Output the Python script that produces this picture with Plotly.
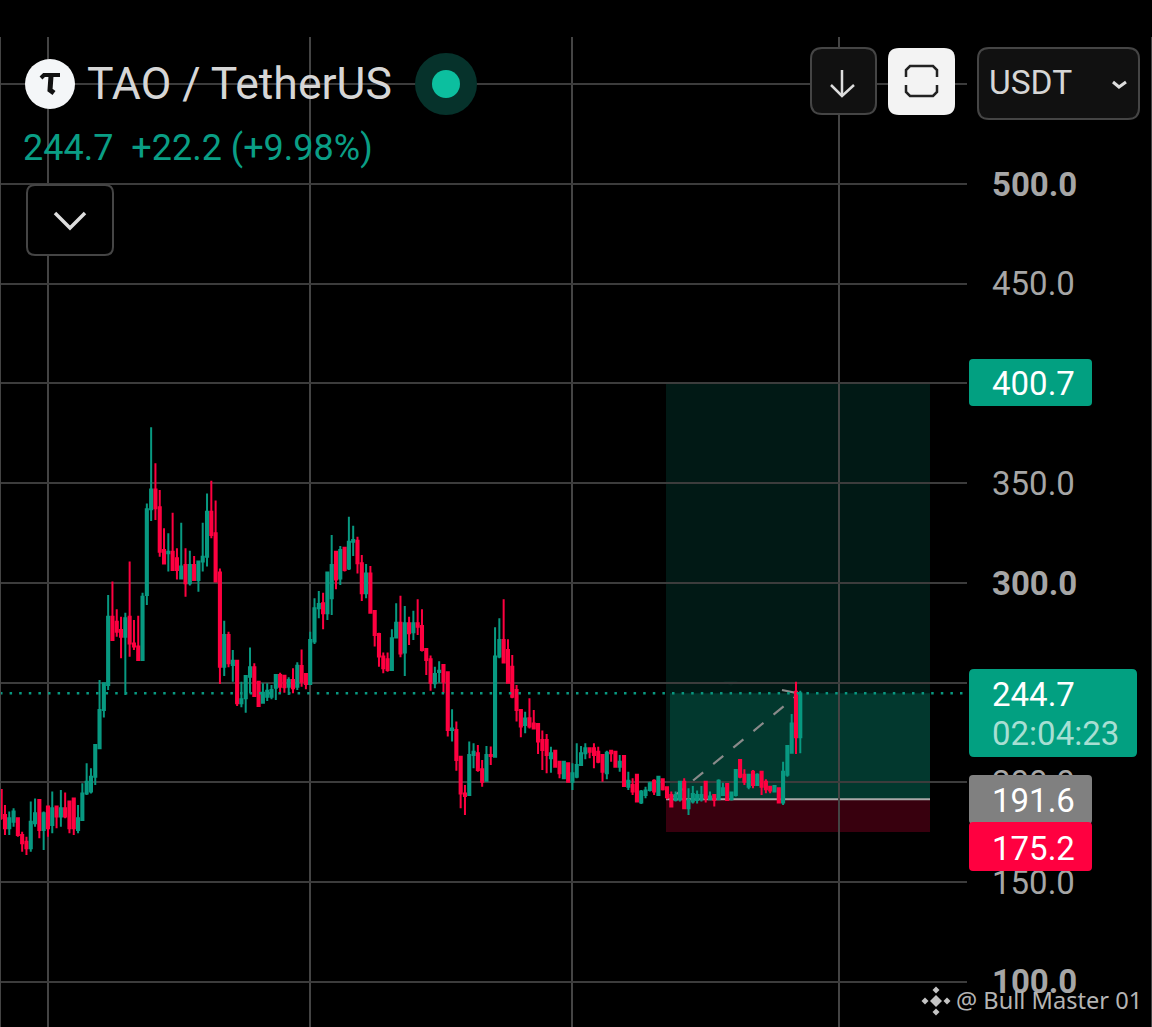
import plotly.graph_objects as go

# prices, one candle per entry
directions = (
    "RRGGRRRGGR" "GRGRGRRRGG" "GGGGGGRRRG" "RRRGGGRRRG" "RRGRGRGGGR"
    "RRGRGRGGGR" "RGGGGRRGRG" "RRGGGRGGRG" "RGGRRGRRRR" "RGGRGRGRRR"
    "RGGRRGRRRG" "GRRGRGGRRR" "RRGRRRRRGR" "RGRGGGGRRR" "RGRRGRGRRG"
    "GGRGRRRGGR" "GGGGRGRGGR" "GGRRGRGRRR" "GRGGGRG"
)
highs = [
    196.2, 188.7, 185.4, 187.0, 182.0, 175.3, 172.8, 190.4, 192.0, 191.2,
    185.4, 188.2, 195.4, 187.9, 196.2, 194.9, 190.4, 192.0, 188.7, 199.6,
    209.6, 207.1, 218.8, 251.4, 250.2, 294.0, 300.7, 286.8, 283.1, 285.1,
    310.7, 281.4, 283.6, 295.1, 339.9, 378.0, 360.0, 346.6, 327.4, 324.9,
    335.2, 317.4, 330.2, 317.4, 316.2, 313.5, 310.7, 330.2, 344.9, 351.3,
    341.3, 307.3, 281.1, 275.6, 266.4, 261.0, 250.5, 253.4, 267.6, 259.7,
    250.5, 249.7, 249.7, 248.9, 253.9, 255.0, 253.5, 252.7, 257.2, 260.2,
    266.7, 254.4, 275.6, 292.3, 296.0, 295.1, 305.2, 324.1, 315.7, 318.5,
    318.2, 333.2, 328.7, 323.2, 314.0, 309.5, 308.5, 286.5, 275.1, 265.1,
    265.1, 276.8, 289.8, 293.6, 288.5, 283.1, 286.1, 291.8, 286.8, 267.2,
    263.6, 258.0, 260.7, 259.4, 255.5, 236.7, 230.5, 212.9, 198.7, 220.5,
    219.6, 218.8, 211.3, 218.3, 218.0, 277.8, 282.3, 291.8, 271.8, 263.9,
    248.9, 236.7, 235.5, 242.2, 236.3, 229.3, 226.0, 224.3, 217.9, 215.9,
    210.4, 210.9, 209.6, 209.6, 219.6, 218.3, 219.6, 217.6, 219.6, 217.9,
    213.8, 215.9, 216.3, 215.9, 213.8, 213.8, 205.4, 202.1, 203.8, 196.2,
    197.9, 200.4, 201.6, 202.9, 202.1, 197.9, 195.4, 195.4, 200.9, 202.1,
    197.1, 198.2, 195.9, 198.2, 200.4, 195.4, 193.7, 201.6, 199.9, 199.2,
    195.4, 206.3, 211.3, 206.6, 204.3, 206.3, 204.6, 205.4, 201.6, 198.2,
    198.7, 197.1, 210.4, 218.8, 234.3, 250.5, 246.0,
]
lows = [
    181.2, 173.7, 173.7, 177.8, 172.8, 165.3, 163.6, 165.3, 177.8, 172.0,
    166.1, 172.8, 174.5, 177.0, 177.8, 182.0, 174.5, 173.7, 174.5, 181.2,
    193.7, 194.5, 198.7, 217.1, 232.5, 246.3, 271.1, 273.1, 262.2, 243.8,
    263.0, 266.4, 261.0, 261.4, 289.0, 331.1, 331.6, 313.2, 309.8, 305.7,
    306.2, 301.8, 301.8, 293.1, 298.7, 301.0, 295.6, 305.7, 308.2, 322.4,
    300.7, 249.4, 253.4, 257.7, 250.5, 238.3, 237.7, 235.0, 244.7, 243.0,
    238.3, 239.7, 240.8, 241.7, 241.3, 244.7, 245.0, 243.8, 244.7, 246.4,
    248.0, 246.7, 248.9, 269.4, 282.3, 276.8, 281.4, 284.0, 296.8, 299.0,
    305.7, 306.5, 313.5, 304.8, 291.0, 292.3, 284.8, 268.1, 258.0, 254.7,
    255.5, 256.0, 272.3, 262.7, 253.4, 268.9, 271.4, 273.9, 265.6, 253.9,
    246.0, 247.2, 250.0, 244.7, 223.0, 220.5, 205.9, 187.0, 183.7, 193.2,
    207.1, 205.4, 197.9, 200.4, 208.8, 212.6, 262.2, 259.7, 250.0, 242.2,
    230.5, 222.6, 224.6, 227.1, 227.1, 214.3, 206.3, 204.6, 204.9, 207.9,
    202.1, 201.6, 200.4, 196.2, 202.1, 208.8, 211.6, 212.1, 207.1, 209.6,
    200.4, 201.6, 210.4, 207.9, 205.4, 197.9, 196.2, 193.7, 189.9, 189.2,
    192.1, 195.4, 193.7, 193.2, 195.9, 191.6, 187.5, 190.4, 190.4, 186.5,
    183.7, 189.5, 189.5, 190.4, 189.9, 191.2, 187.9, 191.2, 193.7, 191.2,
    190.9, 192.9, 202.1, 198.7, 196.6, 197.1, 198.2, 193.7, 194.6, 194.6,
    194.9, 189.5, 188.7, 202.9, 214.6, 214.3, 214.6,
]
body_tops = [
    196.2, 183.7, 182.0, 185.4, 182.0, 173.7, 170.3, 180.3, 184.5, 191.2,
    184.5, 187.9, 187.0, 187.9, 187.0, 187.0, 190.4, 192.0, 182.0, 194.5,
    200.4, 202.9, 218.8, 236.3, 249.7, 283.1, 283.1, 280.6, 276.4, 282.3,
    283.1, 269.7, 268.1, 293.1, 336.9, 346.9, 346.9, 337.9, 316.5, 315.7,
    315.7, 312.4, 308.2, 309.0, 309.0, 309.0, 310.7, 313.2, 335.7, 335.7,
    324.9, 305.2, 273.9, 273.9, 261.0, 261.0, 241.7, 253.4, 257.7, 257.7,
    250.5, 245.0, 246.0, 246.4, 253.9, 253.9, 253.5, 251.4, 251.4, 258.5,
    258.4, 254.4, 271.4, 287.3, 289.5, 289.8, 305.2, 309.0, 315.7, 316.5,
    317.7, 320.7, 321.5, 321.2, 309.9, 304.8, 304.8, 286.0, 274.4, 263.1,
    261.7, 272.3, 280.1, 280.1, 279.8, 279.8, 279.8, 279.8, 278.4, 266.9,
    261.7, 254.4, 256.0, 258.9, 255.2, 227.0, 226.3, 212.9, 194.5, 213.8,
    215.4, 214.6, 206.6, 213.8, 213.8, 263.1, 271.4, 271.4, 266.4, 258.0,
    246.4, 236.3, 232.1, 232.2, 229.6, 229.3, 221.3, 221.3, 214.6, 215.9,
    210.4, 210.4, 209.6, 204.6, 208.8, 214.6, 217.1, 217.1, 217.1, 215.4,
    213.8, 214.9, 215.9, 215.4, 210.4, 213.3, 200.9, 198.7, 203.8, 195.4,
    195.9, 199.6, 200.9, 202.9, 201.6, 197.6, 193.7, 193.7, 200.4, 200.4,
    191.2, 194.2, 193.7, 193.7, 200.4, 192.9, 193.7, 200.9, 197.1, 199.2,
    194.9, 206.3, 211.3, 203.8, 203.8, 205.4, 203.8, 205.4, 200.4, 197.9,
    198.2, 197.1, 205.4, 218.3, 229.6, 245.5, 244.7,
]
body_bottoms = [
    182.0, 177.0, 177.0, 180.3, 173.7, 169.5, 167.0, 167.0, 179.5, 176.2,
    176.2, 177.0, 178.7, 182.9, 182.9, 182.9, 177.0, 177.0, 176.2, 181.2,
    194.5, 195.4, 202.9, 217.1, 236.3, 248.9, 271.4, 275.6, 273.1, 273.1,
    269.7, 268.1, 261.4, 261.4, 294.0, 336.9, 337.4, 315.7, 309.8, 314.9,
    306.5, 306.5, 302.3, 299.8, 299.8, 301.5, 301.5, 310.7, 313.2, 324.1,
    300.7, 258.0, 258.0, 259.7, 258.9, 239.7, 239.7, 242.2, 253.0, 243.3,
    238.3, 240.0, 243.0, 243.0, 247.5, 248.0, 247.7, 248.0, 247.2, 248.0,
    250.5, 249.4, 249.4, 270.6, 287.3, 284.8, 284.8, 292.3, 301.8, 302.3,
    306.5, 307.3, 320.7, 309.9, 294.8, 294.8, 285.1, 273.9, 263.1, 257.2,
    256.4, 256.4, 272.6, 264.7, 265.1, 274.8, 275.3, 278.1, 266.4, 261.4,
    250.0, 249.7, 255.4, 250.5, 226.3, 226.3, 211.3, 194.5, 193.2, 193.7,
    213.8, 206.2, 200.4, 200.9, 213.3, 212.9, 263.1, 260.1, 250.0, 243.0,
    236.3, 228.0, 228.8, 228.0, 227.1, 220.5, 216.3, 213.8, 212.1, 207.9,
    204.6, 202.1, 200.4, 200.4, 202.9, 208.8, 214.6, 215.4, 213.8, 210.4,
    205.4, 204.6, 214.6, 207.9, 207.9, 198.2, 197.9, 195.4, 190.4, 189.9,
    193.7, 196.2, 195.4, 193.7, 196.6, 192.6, 187.9, 191.2, 191.6, 187.0,
    187.0, 190.4, 191.2, 191.6, 192.1, 191.6, 191.2, 191.6, 193.7, 191.2,
    191.6, 193.7, 202.9, 200.4, 197.9, 198.7, 198.7, 197.9, 196.6, 195.9,
    195.4, 189.9, 189.9, 203.8, 214.9, 222.6, 222.6,
]
opens = [t if d == "R" else b for d, t, b in zip(directions, body_tops, body_bottoms)]
closes = [b if d == "R" else t for d, t, b in zip(directions, body_tops, body_bottoms)]
candle_index = list(range(len(highs)))

price_ticks = [100, 150, 200, 250, 300, 350, 400, 450, 500, 550]
bold_ticks = [100, 300, 500]
# these sit fully behind the tags and the currency button
hidden_ticks = [250, 400, 550]
time_grid = [11, 72, 133, 195]

last_price = 244.7
target_price = 400.7
entry_price = 191.6
stop_price = 175.2

GREEN = "#089981"
TEXT_GREEN = "#0a9e85"
RED = "#ff0040"
PAGE_W = 1152
PAGE_H = 1027
PLOT_W = 967
PLOT_H = 990


# page pixels to paper coordinates
def px(x):
    return x / PLOT_W


def py(y):
    return (PAGE_H - y) / PLOT_H


def rounded(x0, y0, x1, y1, r):
    a, b, c, d = px(x0), py(y0), px(x1), py(y1)
    rx, ry = r / PLOT_W, r / PLOT_H
    return (f"M{a + rx},{b} L{c - rx},{b} Q{c},{b} {c},{b - ry} L{c},{d + ry} Q{c},{d} {c - rx},{d} "
            f"L{a + rx},{d} Q{a},{d} {a},{d + ry} L{a},{b - ry} Q{a},{b} {a + rx},{b} Z")


def polyline(points):
    return "M" + " L".join(f"{px(x)},{py(y)}" for x, y in points)


def tick_label(p):
    if p in hidden_ticks:
        return ""
    return f"<b>{p:.1f}</b>" if p in bold_ticks else f"{p:.1f}"


fig = go.Figure()
fig.add_trace(go.Candlestick(
    x=candle_index, open=opens, high=highs, low=lows, close=closes,
    increasing=dict(line=dict(color=GREEN, width=2), fillcolor=GREEN),
    decreasing=dict(line=dict(color=RED, width=2), fillcolor=RED),
    whiskerwidth=0, hoverinfo="skip", showlegend=False,
))


def add_path(path, fill=None, line=None, width=0, dash=None, layer="above"):
    fig.add_shape(type="path", path=path, xref="paper", yref="paper", layer=layer,
                  fillcolor=fill or "rgba(0,0,0,0)",
                  line=dict(color=line or "rgba(0,0,0,0)", width=width, dash=dash))


def add_dot(cx, cy, r, color):
    fig.add_shape(type="circle", xref="paper", yref="paper", layer="above",
                  x0=px(cx - r), x1=px(cx + r), y0=py(cy + r), y1=py(cy - r),
                  fillcolor=color, line=dict(width=0))


def add_text(x, y, text, size, color, font="Roboto"):
    fig.add_annotation(x=px(x), y=py(y), xref="paper", yref="paper", text=text, showarrow=False,
                       xanchor="left", yanchor="middle", align="left", borderpad=0,
                       font=dict(family=font, size=size, color=color))


# long position tool
zone_x0, zone_x1 = px(666), px(930)
fig.add_shape(type="rect", xref="paper", yref="y", x0=zone_x0, x1=zone_x1, y0=entry_price, y1=target_price,
              fillcolor="rgba(8,153,129,0.16)", line=dict(width=0), layer="below")
fig.add_shape(type="rect", xref="paper", yref="y", x0=px(670), x1=zone_x1, y0=entry_price, y1=last_price,
              fillcolor="rgba(8,153,129,0.24)", line=dict(width=0), layer="below")
fig.add_shape(type="rect", xref="paper", yref="y", x0=zone_x0, x1=zone_x1, y0=stop_price, y1=entry_price,
              fillcolor="rgba(255,0,64,0.22)", line=dict(width=0), layer="below")
fig.add_shape(type="line", xref="paper", yref="y", x0=zone_x0, x1=zone_x1, y0=entry_price, y1=entry_price,
              line=dict(color="#a8a8a8", width=2), layer="below")
add_path(polyline([(673, 797), (795, 697)]), line="#8a8a8a", width=2.2, dash="13px,13px", layer="below")
add_path(polyline([(782, 690), (796, 693), (796, 703)]), line="#8a8a8a", width=2.2, layer="below")
add_path(polyline([(723, 681), (738, 681), (731, 686)]) + " Z", fill="#04201b", layer="below")

# last price line
fig.add_shape(type="line", xref="paper", yref="y", x0=0, x1=1, y0=last_price, y1=last_price,
              line=dict(color=GREEN, width=2.5, dash="2.5px,7.1px"), layer="above")

# window edges
add_path(polyline([(0.5, 37), (0.5, 1027)]), line="#444444", width=1)
add_path(polyline([(1151.5, 37), (1151.5, 1027)]), line="#444444", width=1)

# header
add_dot(50, 84, 25, "#f4f6f8")
add_path(polyline([(41, 78), (44, 75), (60, 75)]), line="#111111", width=4)
add_path(polyline([(51, 76), (50, 90), (54, 93)]), line="#111111", width=5)
add_dot(446, 84, 31, "#06322b")
add_dot(446, 84, 14, "#0cbf9f")
add_text(86, 84, "TAO / TetherUS", 44.5, "#d6d6d6")
add_text(22, 148, "244.7  +22.2 (+9.98%)", 36, TEXT_GREEN)

add_path(rounded(27, 185, 113, 255, 8), fill="#000000", line="#454545", width=2)
add_path(polyline([(55, 213), (70, 228), (85, 213)]), line="#dddddd", width=3.5)

add_path(rounded(811, 48, 876, 114, 11), fill="#111111", line="#454545", width=2)
add_path(polyline([(842, 70), (842, 95)]), line="#dddddd", width=2.5)
add_path(polyline([(831, 85), (842, 96), (854, 85)]), line="#dddddd", width=2.5)

add_path(rounded(888, 48, 955, 115, 11), fill="#f3f3f3")
add_path(polyline([(906, 77), (906, 70), (910, 66), (933, 66), (937, 70), (937, 77)]), line="#222222", width=2.5)
add_path(polyline([(906, 85), (906, 92), (910, 96), (933, 96), (937, 92), (937, 85)]), line="#222222", width=2.5)

add_path(rounded(978, 48, 1139, 119, 11), fill="#111111", line="#454545", width=2)
add_text(988, 83, "USDT", 33.5, "#d6d6d6")
add_path(polyline([(1113, 82), (1119, 87), (1126, 82)]), line="#dddddd", width=3)

# price tags
add_path(rounded(969, 359, 1092, 406, 4), fill="#02a081")
add_text(991, 383, str(target_price), 33, "#ffffff")
add_path(rounded(969, 669, 1137, 757, 5), fill="#02a081")
add_text(991, 694, str(last_price), 33, "#ffffff")
add_text(991, 733, "02:04:23", 33, "#a7dfd3")
add_path(rounded(969, 775, 1092, 824, 4), fill="#808080")
add_text(991, 800, str(entry_price), 33, "#ffffff")
add_path(rounded(969, 822, 1092, 871, 4), fill=RED)
add_text(991, 848, str(stop_price), 33, "#ffffff")

# watermark
for cx, cy, r in [(936, 1001, 6), (936, 990, 3.5), (936, 1012, 3.5), (925, 1001, 3.5), (947, 1001, 3.5)]:
    add_path(polyline([(cx, cy - r), (cx + r, cy), (cx, cy + r), (cx - r, cy)]) + " Z", fill="#c4c4c4")
add_text(955, 1000, "@ Bull Master 01", 23.6, "#b4b4b4", font="Noto Sans")

fig.update_layout(
    width=PAGE_W, height=PAGE_H,
    margin=dict(l=0, r=PAGE_W - PLOT_W, t=PAGE_H - PLOT_H, b=0),
    paper_bgcolor="#000000", plot_bgcolor="#000000",
    showlegend=False, hovermode=False,
    xaxis=dict(range=[-0.156, 224.78], tickvals=time_grid, showticklabels=False, ticks="",
               showgrid=True, gridcolor="#444444", gridwidth=2, zeroline=False,
               rangeslider=dict(visible=False)),
    yaxis=dict(range=[77.4, 573.7], side="right", tickvals=price_ticks,
               ticktext=[tick_label(p) for p in price_ticks],
               tickfont=dict(family="Roboto", size=33, color="#a6a6a6"), ticks="",
               ticklabelstandoff=24, showgrid=True, gridcolor="#3c3c3c", gridwidth=2,
               zeroline=False, showline=False),
)

fig.write_html("out.html", config=dict(displayModeBar=False),
               post_script="document.body.style.margin='0';document.body.style.background='#000';")
